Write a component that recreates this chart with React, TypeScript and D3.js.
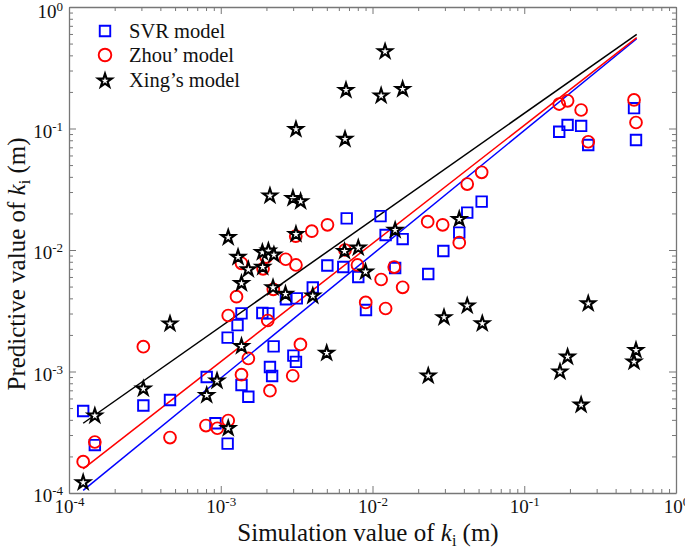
import React, { useEffect, useRef } from "react";
import * as d3 from "d3";

// simulation value (x) / predictive value (y), in m
const svrSim = [1.24e-4, 1.48e-4, 3.09e-4, 4.63e-4, 8.08e-4, 9.23e-4, 1.11e-3, 1.11e-3, 1.29e-3, 1.37e-3, 1.37e-3, 1.52e-3, 1.88e-3, 2.06e-3, 2.23e-3, 2.11e-3, 2.18e-3, 3.01e-3, 3.13e-3, 2.69e-3, 3.17e-3, 4.04e-3, 5.04e-3, 6.42e-3, 8.06e-3, 9.06e-3, 6.76e-3, 1.13e-2, 1.22e-2, 1.58e-2, 2.93e-2, 3.73e-2, 4.21e-2, 5.24e-2, 2.33e-2, 1.41e-2, 0.170, 0.193, 0.237, 0.264, 0.529, 0.545];
const svrPred = [4.73e-4, 2.48e-4, 5.25e-4, 5.82e-4, 9.01e-4, 3.75e-4, 2.55e-4, 1.90e-3, 2.41e-3, 3.01e-3, 7.74e-4, 6.20e-4, 3.03e-3, 3.01e-3, 1.61e-3, 1.09e-3, 9.18e-4, 1.35e-3, 1.20e-3, 3.93e-3, 4.00e-3, 4.91e-3, 7.46e-3, 7.24e-3, 6.00e-3, 3.21e-3, 1.82e-2, 1.90e-2, 1.33e-2, 1.23e-2, 9.82e-3, 1.39e-2, 2.03e-2, 2.50e-2, 6.34e-3, 7.11e-3, 9.41e-2, 0.107, 0.105, 7.31e-2, 0.147, 8.04e-2];

const zhouSim = [1.24e-4, 1.48e-4, 3.09e-4, 4.63e-4, 7.99e-4, 9.5e-4, 1.12e-3, 1.12e-3, 1.27e-3, 1.37e-3, 1.52e-3, 1.37e-3, 1.99e-3, 1.90e-3, 2.04e-3, 2.11e-3, 2.22e-3, 2.68e-3, 3.13e-3, 2.98e-3, 3.35e-3, 3.12e-3, 3.98e-3, 5.05e-3, 6.59e-3, 7.96e-3, 9.02e-3, 1.14e-2, 1.22e-2, 1.39e-2, 1.58e-2, 2.31e-2, 2.90e-2, 3.73e-2, 4.21e-2, 5.24e-2, 0.170, 0.193, 0.237, 0.264, 0.529, 0.545];
const zhouPred = [1.81e-4, 2.63e-4, 1.60e-3, 2.86e-4, 3.59e-4, 3.41e-4, 3.95e-4, 2.89e-3, 4.13e-3, 7.77e-3, 1.28e-3, 9.41e-4, 8.75e-3, 7.00e-3, 2.63e-3, 6.95e-4, 4.75e-3, 8.39e-3, 7.53e-3, 9.23e-4, 1.67e-3, 1.30e-2, 1.43e-2, 1.61e-2, 1.0e-2, 7.53e-3, 3.70e-3, 5.72e-3, 3.30e-3, 7.24e-3, 4.93e-3, 1.71e-2, 1.61e-2, 1.15e-2, 3.49e-2, 4.36e-2, 0.159, 0.169, 0.142, 7.78e-2, 0.172, 0.112];

const xingSim = [1.24e-4, 1.48e-4, 3.09e-4, 4.63e-4, 8.08e-4, 9.45e-4, 1.12e-3, 1.37e-3, 1.12e-3, 1.30e-3, 1.37e-3, 1.52e-3, 1.88e-3, 2.06e-3, 2.24e-3, 1.89e-3, 2.21e-3, 2.67e-3, 4.04e-3, 2.11e-3, 2.99e-3, 3.36e-3, 3.13e-3, 3.13e-3, 6.59e-3, 6.69e-3, 1.14e-2, 1.21e-2, 1.58e-2, 6.54e-3, 8.06e-3, 8.99e-3, 1.41e-2, 3.73e-2, 4.99e-3, 4.21e-2, 2.96e-2, 5.29e-2, 2.33e-2, 0.264, 0.193, 0.172, 0.237, 0.545, 0.529];
const xingPred = [1.24e-4, 4.39e-4, 7.32e-4, 2.51e-3, 6.47e-4, 8.51e-4, 3.46e-4, 1.64e-3, 1.29e-2, 8.88e-3, 5.40e-3, 7.02e-3, 9.72e-3, 1.0e-2, 9.27e-3, 7.34e-3, 4.99e-3, 4.40e-3, 4.26e-3, 2.84e-2, 2.71e-2, 2.55e-2, 1.37e-2, 0.100, 8.30e-2, 0.210, 0.189, 0.437, 0.214, 9.91e-3, 1.06e-2, 6.72e-3, 1.48e-2, 1.82e-2, 1.44e-3, 3.53e-3, 2.83e-3, 2.52e-3, 9.36e-4, 3.68e-3, 1.34e-3, 1.01e-3, 5.40e-4, 1.52e-3, 1.22e-3];

// fitted lines (two end points each)
const fitSim = [1.24e-4, 0.551];
const svrFit = [1.05e-4, 0.548];
const zhouFit = [1.58e-4, 0.559];
const xingFit = [3.75e-4, 0.596];

const decades = [-4, -3, -2, -1, 0];
const legendLabels = ["SVR model", "Zhou’ model", "Xing’s model"];

const BLUE = "#0000ff";
const RED = "#ff0000";
const FONT = "'Liberation Serif', 'Times New Roman', serif";

export default function App() {
  const ref = useRef<SVGSVGElement>(null);

  useEffect(() => {
    const svg = d3.select(ref.current);
    svg.selectAll("*").remove();

    const x = d3.scaleLog().domain([1e-4, 1]).range([69, 676]);
    const y = d3.scaleLog().domain([1e-4, 1]).range([493, 7]);

    const major = decades.map((d) => Math.pow(10, d));
    const minor: number[] = [];
    decades.slice(0, -1).forEach((d) => {
      for (let k = 2; k < 10; k++) minor.push(k * Math.pow(10, d));
    });

    // axes: minor ticks first, then majors with labels
    const axes = [
      { ax: d3.axisBottom(x), t: "translate(0,493)", lab: true },
      { ax: d3.axisTop(x), t: "translate(0,7)", lab: false },
      { ax: d3.axisLeft(y), t: "translate(69,0)", lab: true },
      { ax: d3.axisRight(y), t: "translate(676,0)", lab: false },
    ];
    axes.forEach((a, i) => {
      const gMin = svg.append("g").attr("transform", a.t);
      gMin.call(a.ax.tickValues(minor).tickSize(-4).tickSizeOuter(0).tickFormat(() => ""));
      gMin.selectAll("line").attr("stroke", "#777").attr("stroke-width", 1);
      gMin.select(".domain").attr("stroke", "#777").attr("stroke-width", 1.3);

      const gMaj = svg.append("g").attr("transform", a.t);
      gMaj.call(
        a.ax.tickValues(major).tickSize(-7).tickSizeOuter(0).tickPadding(i === 0 ? 7 : 6).tickFormat(() => "10")
      );
      gMaj.select(".domain").remove();
      gMaj.selectAll("line").attr("stroke", "#777").attr("stroke-width", 1);
      const txt = gMaj.selectAll<SVGTextElement, number>("text")
        .style("font-family", FONT)
        .style("font-size", "19px")
        .attr("fill", "#111");
      if (!a.lab) {
        txt.remove();
        return;
      }
      if (i === 2) txt.attr("dy", (d) => (d === 1 ? "0.55em" : "0.45em"));
      txt.append("tspan")
        .style("font-size", "13px")
        .attr("dy", -7)
        .text((d) => String(Math.round(Math.log10(d))));
    });

    // fitted lines
    const line = d3.line<[number, number]>().x((d) => x(d[0])).y((d) => y(d[1]));
    const fits = [
      { ys: svrFit, c: BLUE },
      { ys: zhouFit, c: RED },
      { ys: xingFit, c: "#000" },
    ];
    fits.forEach((f) => {
      svg.append("path")
        .attr("d", line(fitSim.map((v, i) => [v, f.ys[i]] as [number, number])))
        .attr("fill", "none")
        .attr("stroke", f.c)
        .attr("stroke-width", 1.5);
    });

    const sq = d3.symbol().type(d3.symbolSquare).size(110)();
    const star = d3.symbol().type(d3.symbolStar).size(58)();

    svg.append("g").selectAll("path")
      .data(svrSim.map((v, i) => [v, svrPred[i]]))
      .enter().append("path")
      .attr("d", sq)
      .attr("transform", (d) => `translate(${x(d[0])},${y(d[1])})`)
      .attr("fill", "none").attr("stroke", BLUE).attr("stroke-width", 1.9);

    svg.append("g").selectAll("circle")
      .data(zhouSim.map((v, i) => [v, zhouPred[i]]))
      .enter().append("circle")
      .attr("cx", (d) => x(d[0])).attr("cy", (d) => y(d[1])).attr("r", 5.9)
      .attr("fill", "none").attr("stroke", RED).attr("stroke-width", 1.9);

    svg.append("g").selectAll("path")
      .data(xingSim.map((v, i) => [v, xingPred[i]]))
      .enter().append("path")
      .attr("d", star)
      .attr("transform", (d) => `translate(${x(d[0])},${y(d[1]) + 0.8})`)
      .attr("fill", "#fff").attr("stroke", "#000").attr("stroke-width", 2.1);

    // legend
    const lg = svg.append("g");
    const ly = [31, 55, 80];
    lg.append("path").attr("d", sq).attr("transform", `translate(105,${ly[0]})`)
      .attr("fill", "none").attr("stroke", BLUE).attr("stroke-width", 1.9);
    lg.append("circle").attr("cx", 105).attr("cy", ly[1]).attr("r", 6.3)
      .attr("fill", "none").attr("stroke", RED).attr("stroke-width", 1.9);
    lg.append("path").attr("d", star).attr("transform", `translate(105,${ly[2] + 0.8})`)
      .attr("fill", "#fff").attr("stroke", "#000").attr("stroke-width", 2.1);
    legendLabels.forEach((t, i) => {
      lg.append("text").attr("x", 129).attr("y", ly[i] + 7)
        .style("font-family", FONT).style("font-size", "20.5px").attr("fill", "#111")
        .text(t);
    });

    // axis titles
    const xt = svg.append("text")
      .attr("x", 368).attr("y", 541)
      .attr("text-anchor", "middle")
      .style("font-family", FONT).style("font-size", "25px").attr("fill", "#111");
    xt.append("tspan").text("Simulation value of ");
    xt.append("tspan").style("font-style", "italic").text("k");
    xt.append("tspan").style("font-size", "16px").attr("dy", 5).text("i");
    xt.append("tspan").attr("dy", -5).text(" (m)");

    const yt = svg.append("text")
      .attr("transform", "translate(25,264) rotate(-90)")
      .attr("text-anchor", "middle")
      .style("font-family", FONT).style("font-size", "25px").attr("fill", "#111");
    yt.append("tspan").text("Predictive value of ");
    yt.append("tspan").style("font-style", "italic").text("k");
    yt.append("tspan").style("font-size", "16px").attr("dy", 5).text("i");
    yt.append("tspan").attr("dy", -5).text(" (m)");
  }, []);

  return (
    <svg
      ref={ref}
      width={685}
      height={551}
      style={{ position: "absolute", left: 0, top: 0, background: "#fff" }}
    />
  );
}
